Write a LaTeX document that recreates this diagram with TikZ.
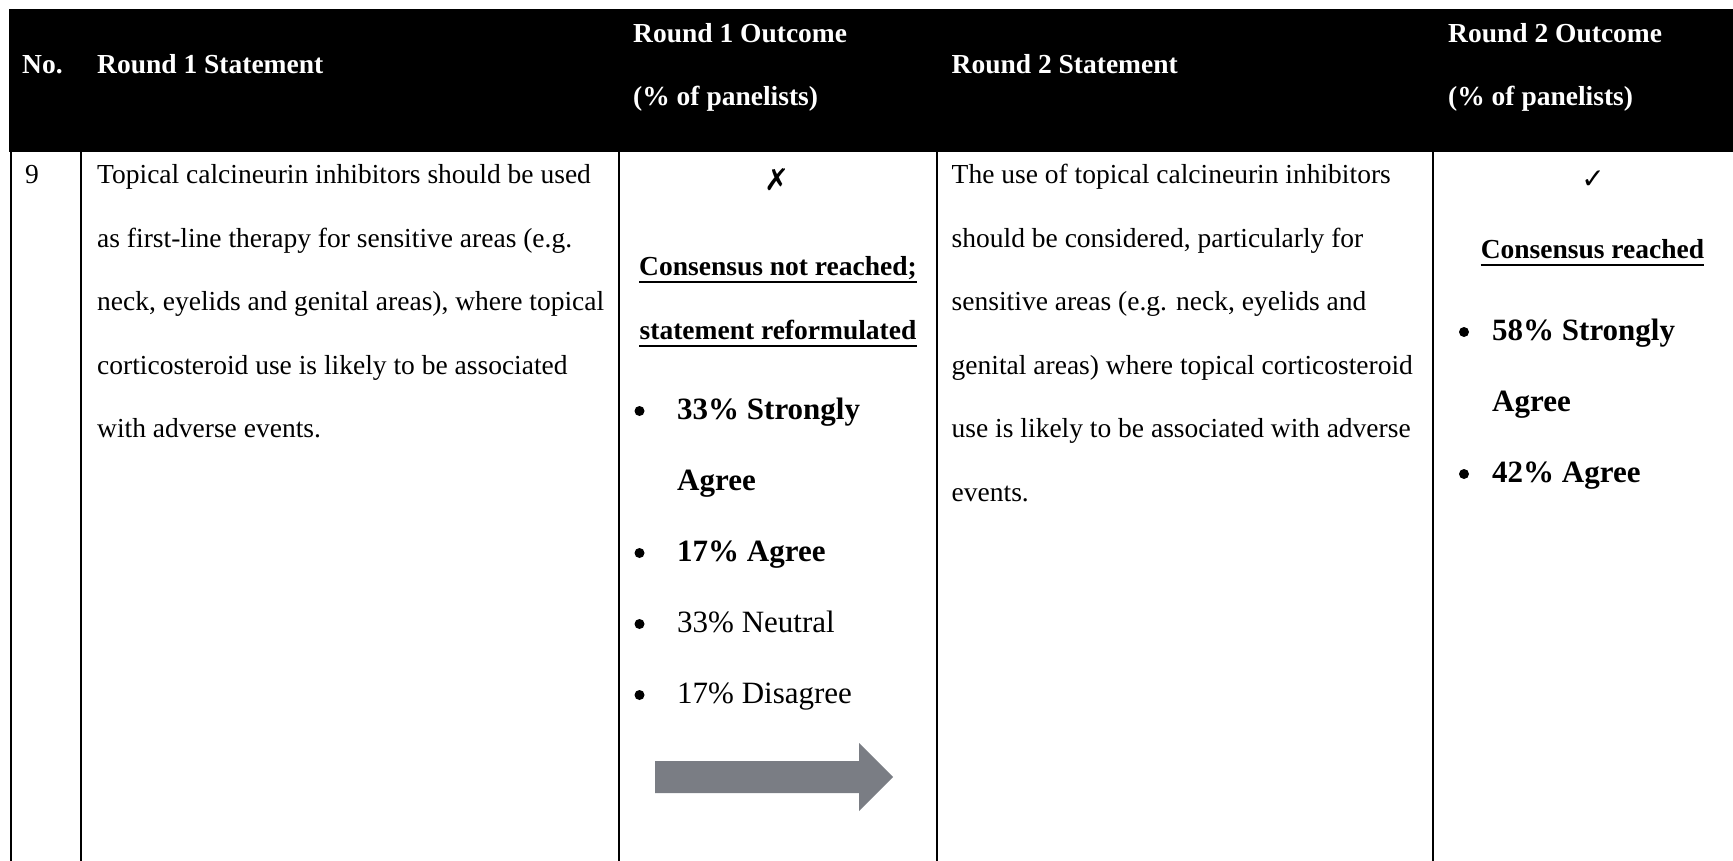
\documentclass[tikz,border=0pt]{standalone}
\usepackage{fontspec}
\setmainfont{Liberation Serif}
\newfontfamily\symfont{DejaVu Sans}
\definecolor{arrowgray}{HTML}{7A7D84}
\begin{document}
\begin{tikzpicture}[x=1pt,y=-1pt,
  body/.style={anchor=base west,inner sep=0pt,font=\fontsize{27.5}{33}\selectfont},
  hd/.style={anchor=base west,inner sep=0pt,text=white,font=\fontsize{27.5}{33}\selectfont\bfseries},
  ctr/.style={anchor=base,inner sep=0pt,font=\fontsize{27.5}{33}\selectfont\bfseries},
  item/.style={anchor=base west,inner sep=0pt,font=\fontsize{31}{38}\selectfont},
  bitem/.style={anchor=base west,inner sep=0pt,font=\fontsize{31}{38}\selectfont\bfseries},
  dot/.style={circle,fill=black,inner sep=0pt,minimum size=10pt},
  symb/.style={anchor=base,inner sep=0pt,font=\symfont\fontsize{26}{30}\selectfont},
  rule/.style={line width=2.2pt},
  uline/.style={line width=2pt}]
\useasboundingbox (0,0) rectangle (1733,861);

% header band
\fill[black] (9,9) rectangle (1733,152.5);
\node[hd] (hno)  at (22,74) {No.};
\node[hd] (hr1s) at (97,74) {Round 1 Statement};
\node[hd] (hr1oa) at (633,42.5) {Round 1 Outcome};
\node[hd] (hr1ob) at (633,105.5) {(\% of panelists)};
\node[hd] (hr2s) at (951.5,74) {Round 2 Statement};
\node[hd] (hr2oa) at (1448,42.5) {Round 2 Outcome};
\node[hd] (hr2ob) at (1448,105.5) {(\% of panelists)};

% column rules
\foreach \x in {11,81,619,937,1433}
  \draw[rule] (\x,152) -- (\x,861);

% statement number
\node[body] (num) at (25,184) {9};

% round 1 statement
\foreach \t [count=\i] in {
  {Topical calcineurin inhibitors should be used},
  {as first-line therapy for sensitive areas (e.g.},
  {neck, eyelids and genital areas), where topical},
  {corticosteroid use is likely to be associated},
  {with adverse events.}}
  \node[body] (ra\i) at (97,{184+63.4*(\i-1)}) {\t};

% round 2 statement
\foreach \t [count=\i] in {
  {The use of topical calcineurin inhibitors},
  {should be considered, particularly for},
  {sensitive areas (e.g. neck, eyelids and},
  {genital areas) where topical corticosteroid},
  {use is likely to be associated with adverse},
  {events.}}
  \node[body] (rb\i) at (951.5,{184+63.4*(\i-1)}) {\t};

% round 1 outcome
\node[symb,font=\symfont\fontsize{30}{34}\selectfont] (cross) at (777,191) {✗};
\node[ctr] (c1a) at (778,276) {Consensus not reached;};
\node[ctr] (c1b) at (778,339.5) {statement reformulated};
\draw[uline] ([yshift=-6.5pt]c1a.base west) -- ([yshift=-6.5pt]c1a.base east);
\draw[uline] ([yshift=-6.5pt]c1b.base west) -- ([yshift=-6.5pt]c1b.base east);
\node[dot] (d1) at (639.5,411) {};
\node[bitem] (i1) at (677,419) {33\% Strongly};
\node[bitem] (i1b) at (677,490) {Agree};
\node[dot] (d2) at (639.5,553) {};
\node[bitem] (i2) at (677,561) {17\% Agree};
\node[dot] (d3) at (639.5,624) {};
\node[item] (i3) at (677,632) {33\% Neutral};
\node[dot] (d4) at (639.5,695) {};
\node[item] (i4) at (677,703) {17\% Disagree};

% transition arrow
\fill[arrowgray] (655,761) -- (859,761) -- (859,743) -- (893,777)
  -- (859,811) -- (859,793) -- (655,793) -- cycle;

% round 2 outcome
\node[symb,font=\symfont\fontsize{28}{32}\selectfont] (check) at (1593,189) {✓};
\node[ctr] (c2) at (1592.5,258.6) {Consensus reached};
\draw[uline] ([yshift=-6.5pt]c2.base west) -- ([yshift=-6.5pt]c2.base east);
\node[dot] (e1) at (1464,332) {};
\node[bitem] (j1) at (1492,340) {58\% Strongly};
\node[bitem] (j1b) at (1492,411) {Agree};
\node[dot] (e2) at (1464,474) {};
\node[bitem] (j2) at (1492,482) {42\% Agree};
\end{tikzpicture}
\end{document}
